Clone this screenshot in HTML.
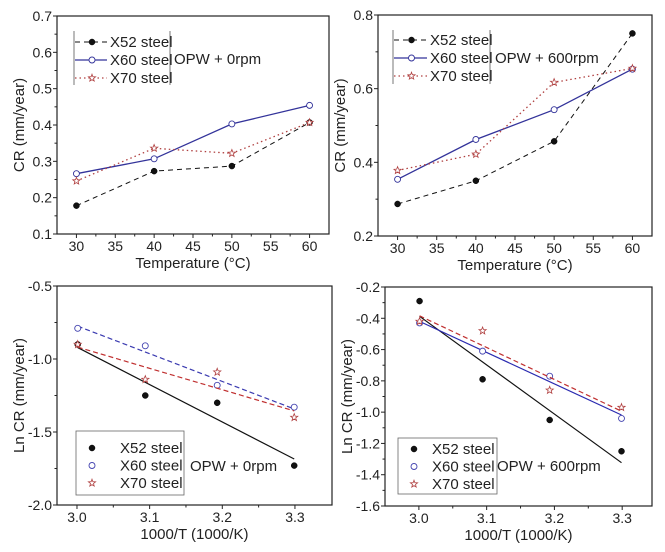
<!DOCTYPE html>
<html><head><meta charset="utf-8">
<style>
body{margin:0;background:#fff;}
svg{display:block;font-family:"Liberation Sans",Arial,sans-serif;}
</style></head>
<body>
<svg id="fig" width="665" height="552" viewBox="0 0 665 552" xmlns="http://www.w3.org/2000/svg"></svg>
<script>
// Panel A: OPW + 0rpm, CR vs temperature
const tempCategories = [30, 40, 50, 60];
const a_x52 = [0.178, 0.273, 0.287, 0.407];
const a_x60 = [0.266, 0.307, 0.403, 0.454];
const a_x70 = [0.246, 0.336, 0.322, 0.407];
const a_yTicks = [0.1, 0.2, 0.3, 0.4, 0.5, 0.6, 0.7];
const tempTicks = [30, 35, 40, 45, 50, 55, 60];
// Panel B: OPW + 600rpm
const b_x52 = [0.287, 0.350, 0.457, 0.750];
const b_x60 = [0.354, 0.462, 0.543, 0.653];
const b_x70 = [0.378, 0.422, 0.617, 0.655];
const b_yTicks = [0.2, 0.4, 0.6, 0.8];
// Panel C: Arrhenius OPW + 0rpm
const invT = [3.001, 3.094, 3.193, 3.299];
const c_x52 = [-0.90, -1.25, -1.30, -1.73];
const c_x60 = [-0.79, -0.91, -1.18, -1.33];
const c_x70 = [-0.90, -1.14, -1.09, -1.40];
const c_yTicks = [-2.0, -1.5, -1.0, -0.5];
const invTTicks = [3.0, 3.1, 3.2, 3.3];
// Panel D: Arrhenius OPW + 600rpm
const d_x52 = [-0.29, -0.79, -1.05, -1.25];
const d_x60 = [-0.43, -0.61, -0.77, -1.04];
const d_x70 = [-0.42, -0.48, -0.86, -0.97];
const d_yTicks = [-1.6, -1.4, -1.2, -1.0, -0.8, -0.6, -0.4, -0.2];

const NS = "http://www.w3.org/2000/svg";
const svg = document.getElementById('fig');
function mk(tag, attrs, parent){
  const e = document.createElementNS(NS, tag);
  for (const k in attrs) e.setAttribute(k, attrs[k]);
  (parent||svg).appendChild(e);
  return e;
}
function txt(s, x, y, size, anchor, parent, rot){
  const t = mk('text', {x:x, y:y, 'font-size':size, 'text-anchor':anchor||'middle', fill:'#222'}, parent);
  if (rot) t.setAttribute('transform', 'rotate(-90 '+x+' '+y+')');
  t.textContent = s;
  return t;
}
function marker(g, kind, x, y, color){
  let m;
  if (kind === 'dot') { m = mk('circle', {cx:x, cy:y, r:3, fill:'#111', stroke:'#000', 'stroke-width':0.5}, g); }
  else if (kind === 'circle') { m = mk('circle', {cx:x, cy:y, r:3, fill:'#fff', stroke:color, 'stroke-width':0.9}, g); }
  else {
    let p = [];
    for (let i=0;i<10;i++){ const r = i%2?1.6:3.8; const a = -Math.PI/2 + i*Math.PI/5; p.push((x+r*Math.cos(a)).toFixed(1)+','+(y+r*Math.sin(a)).toFixed(1)); }
    m = mk('polygon', {points:p.join(' '), fill:'#fff', stroke:color, 'stroke-width':0.8}, g);
  }
  
  
  return m;
}
function fit(xs, ys){
  const n = xs.length; let sx=0, sy=0, sxx=0, sxy=0;
  for (let i=0;i<n;i++){ sx+=xs[i]; sy+=ys[i]; sxx+=xs[i]*xs[i]; sxy+=xs[i]*ys[i]; }
  const b = (n*sxy - sx*sy)/(n*sxx - sx*sx); const a = (sy - b*sx)/n;
  return [a, b];
}
function panel(cfg){
  const g = mk('g', {});
  
  
  const L=cfg.box[0], T=cfg.box[1], R=cfg.box[2], B=cfg.box[3];
  const sx = v => L + (v - cfg.xr[0])/(cfg.xr[1]-cfg.xr[0])*(R-L);
  const sy = v => B - (v - cfg.yr[0])/(cfg.yr[1]-cfg.yr[0])*(B-T);
  const fr = mk('rect', {x:L, y:T, width:R-L, height:B-T, fill:'none', stroke:'#222', 'stroke-width':1.2}, g);
  
  
  cfg.xt.forEach((v, i) => {
    const x = sx(v);
    mk('line', {x1:x, y1:B, x2:x, y2:B+4, stroke:'#222'}, g);
    if (i < cfg.xt.length-1 && cfg.xminor) { const xm = sx(v + cfg.xminor); mk('line', {x1:xm, y1:B, x2:xm, y2:B+2.5, stroke:'#222'}, g); }
    const t = txt(cfg.xfmt(v), x, B+17, 14, 'middle', g);
    
    
  });
  cfg.yt.forEach((v, i) => {
    const y = sy(v);
    mk('line', {x1:L-4, y1:y, x2:L, y2:y, stroke:'#222'}, g);
    if (i < cfg.yt.length-1) { const ym = sy(v + (cfg.yt[1]-cfg.yt[0])/2); mk('line', {x1:L-2.5, y1:ym, x2:L, y2:ym, stroke:'#222'}, g); }
    const t = txt(cfg.yfmt(v), L-5, y+5, 14, 'end', g);
    
    
  });
  const xt = txt(cfg.xtitle, (L+R)/2, B+34, 15, 'middle', g);
  
  
  const yt = txt(cfg.ytitle, L-33, (T+B)/2, 15, 'middle', g, true);
  
  
  cfg.series.forEach(s => {
    if (cfg.mode === 'line') {
      const pts = cfg.xs.map((v,i) => sx(v).toFixed(1)+','+sy(s.ys[i]).toFixed(1)).join(' ');
      const pl = mk('polyline', {points:pts, fill:'none', stroke:s.color, 'stroke-width':s.w||1, 'stroke-dasharray':s.dash||'none'}, g);
      
      
    } else {
      const ab = fit(cfg.xs, s.ys);
      const x0 = cfg.xs[0], x1 = cfg.xs[cfg.xs.length-1];
      const ln = mk('line', {x1:sx(x0), y1:sy(ab[0]+ab[1]*x0), x2:sx(x1), y2:sy(ab[0]+ab[1]*x1), stroke:s.color, 'stroke-width':1.2, 'stroke-dasharray':s.dash||'none'}, g);
      
      
    }
    cfg.xs.forEach((v,i) => marker(g, s.mk, sx(v), sy(s.ys[i]), s.mcolor));
  });
  const lg = mk('g', {}, g);
  
  
  const lb = cfg.leg;
  if (cfg.mode === 'line') {
    mk('line', {x1:lb.x0, y1:lb.y0, x2:lb.x0, y2:lb.y1, stroke:'#555', 'stroke-width':0.8}, lg);
    mk('line', {x1:lb.x1, y1:lb.y0, x2:lb.x1, y2:lb.y1, stroke:'#555', 'stroke-width':0.8}, lg);
  } else {
    mk('rect', {x:lb.x0, y:lb.y0, width:lb.x1-lb.x0, height:lb.y1-lb.y0, fill:'#fff', stroke:'#666', 'stroke-width':0.8}, lg);
  }
  cfg.series.forEach((s, i) => {
    const y = lb.iy + i*lb.dy;
    const e = mk('g', {}, lg);
    
    
    if (cfg.mode === 'line') {
      mk('line', {x1:lb.x0+1, y1:y, x2:lb.tx-3, y2:y, stroke:s.color, 'stroke-width':s.w||1, 'stroke-dasharray':s.dash||'none'}, e);
      marker(e, s.mk, (lb.x0+lb.tx)/2, y, s.mcolor);
    } else {
      marker(e, s.mk, lb.x0+16, y, s.mcolor);
    }
    txt(s.label, lb.tx, y+5, 15, 'start', e);
  });
  const ot = txt(cfg.note, lb.nx, lb.ny, 15, 'start', g);
  
  
}
const f1 = v => v.toFixed(1);
const f0 = v => String(v);
const tempSeries = (a,b,c) => [
  {name:'x52', label:'X52 steel', ys:a, color:'#111', dash:'5,4', mk:'dot', mcolor:'#000'},
  {name:'x60', label:'X60 steel', ys:b, color:'#33339a', w:1.3, mk:'circle', mcolor:'#33339a'},
  {name:'x70', label:'X70 steel', ys:c, color:'#b04040', dash:'1.5,3', w:1.3, mk:'star', mcolor:'#b04040'}
];
panel({name:'panel-cr-0rpm', box:[57,16,329,234], xr:[27.5,62.5], yr:[0.1,0.7], xs:tempCategories, xt:tempTicks, yt:a_yTicks, xminor:2.5, xfmt:f0, yfmt:f1,
  xtitle:'Temperature (°C)', ytitle:'CR (mm/year)', mode:'line', series:tempSeries(a_x52,a_x60,a_x70),
  leg:{x0:74, x1:170, y0:31, y1:85, iy:42, dy:18, tx:110, nx:174, ny:64}, note:'OPW + 0rpm'});
panel({name:'panel-cr-600rpm', box:[378,15,652,236], xr:[27.5,62.5], yr:[0.2,0.8], xs:tempCategories, xt:tempTicks, yt:b_yTicks, xminor:2.5, xfmt:f0, yfmt:f1,
  xtitle:'Temperature (°C)', ytitle:'CR (mm/year)', mode:'line', series:tempSeries(b_x52,b_x60,b_x70),
  leg:{x0:393, x1:490, y0:30, y1:84, iy:40, dy:18, tx:430, nx:495, ny:63}, note:'OPW + 600rpm'});
panel({name:'panel-lncr-0rpm', box:[57,286,332,505], xr:[2.9725,3.351], yr:[-2.0,-0.5], xs:invT, xt:invTTicks, yt:c_yTicks, xminor:0.05, xfmt:f1, yfmt:f1,
  xtitle:'1000/T (1000/K)', ytitle:'Ln CR (mm/year)', mode:'fit',
  series:[{name:'x52', label:'X52 steel', ys:c_x52, color:'#111', mk:'dot', mcolor:'#000'},
          {name:'x60', label:'X60 steel', ys:c_x60, color:'#3a3ab0', dash:'5,3', mk:'circle', mcolor:'#4444b0'},
          {name:'x70', label:'X70 steel', ys:c_x70, color:'#c03030', dash:'5,3', mk:'star', mcolor:'#b04040'}],
  leg:{x0:76, x1:184, y0:431, y1:495, iy:448, dy:17.5, tx:120, nx:190, ny:471}, note:'OPW + 0rpm'});
panel({name:'panel-lncr-600rpm', box:[385,287,652,506], xr:[2.95,3.344], yr:[-1.6,-0.2], xs:invT, xt:invTTicks, yt:d_yTicks, xminor:0.05, xfmt:f1, yfmt:f1,
  xtitle:'1000/T (1000/K)', ytitle:'Ln CR (mm/year)', mode:'fit',
  series:[{name:'x52', label:'X52 steel', ys:d_x52, color:'#111', mk:'dot', mcolor:'#000'},
          {name:'x60', label:'X60 steel', ys:d_x60, color:'#2a2ab0', mk:'circle', mcolor:'#4444b0'},
          {name:'x70', label:'X70 steel', ys:d_x70, color:'#c03030', dash:'5,3', mk:'star', mcolor:'#b04040'}],
  leg:{x0:398, x1:497, y0:438, y1:494, iy:449, dy:17.5, tx:432, nx:497, ny:471}, note:'OPW + 600rpm'});
</script>
</body></html>
